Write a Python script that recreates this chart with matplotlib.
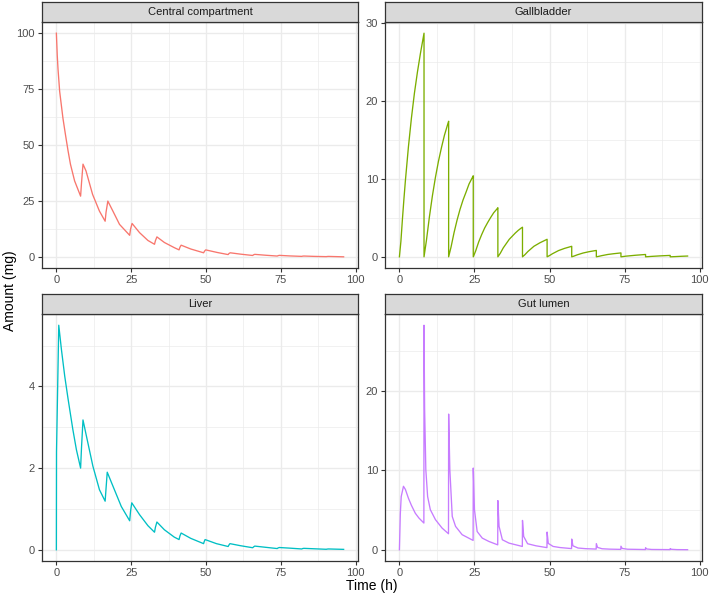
import matplotlib

matplotlib.use("Agg")
import matplotlib.pyplot as plt


FIG_W, FIG_H, DPI = 709, 596, 100

PANEL_TITLES = ["Central compartment", "Gallbladder", "Liver", "Gut lumen"]
PALETTE = ["#F8766D", "#7CAE00", "#00BFC4", "#C77CFF"]

X_BREAKS = [0, 25, 50, 75, 100]
X_MINOR = [12.5, 37.5, 62.5, 87.5]

# amounts (mg)
CENTRAL_TIME = [0, 0.3, 0.55, 1.1, 2.2, 3.0, 3.9, 4.7, 6.1, 8.1,
                8.4, 8.9, 9.9, 12.1, 14.4, 16.3, 16.6, 17.2, 18.9, 21.1,
                24.5, 24.8, 25.3, 27.8, 30.6, 32.8, 33.1, 33.6, 36.1, 39.4,
                41.0, 41.3, 41.7, 44.9, 49.2, 49.5, 49.9, 53.9, 57.4, 57.7,
                58.1, 61.5, 65.6, 65.9, 66.3, 70.0, 73.8, 74.1, 74.5, 78.0,
                82.0, 82.3, 82.7, 86.0, 90.2, 90.5, 90.9, 96.0]
CENTRAL_AMOUNT = [100, 90, 84, 74, 62, 55, 47.5, 41.5, 34, 27.2,
                  33, 41.5, 38.5, 28, 20.5, 16, 20, 25, 20.5, 14.6,
                  9.7, 12.5, 15, 10.9, 7.4, 5.7, 7.3, 9.0, 6.5, 4.2,
                  3.2, 4.4, 5.3, 3.6, 1.9, 2.6, 3.2, 2.0, 1.1, 1.6,
                  1.9, 1.3, 0.7, 1.0, 1.2, 0.8, 0.45, 0.62, 0.75, 0.5,
                  0.3, 0.4, 0.45, 0.3, 0.18, 0.24, 0.28, 0.1]

GALL_TIME = [0, 0.5, 1.0, 1.5, 2.0, 3.0, 4.0, 5.0, 6.0, 7.0, 8.2,
             8.2, 9.0, 10.0, 11.0, 12.0, 13.0, 14.0, 15.0, 16.0, 16.4,
             16.4, 17.2, 18.2, 19.2, 20.2, 21.2, 22.2, 23.2, 24.2, 24.6,
             24.6, 25.4, 26.4, 27.4, 28.4, 29.4, 30.4, 31.4, 32.4, 32.8,
             32.8, 33.6, 34.6, 35.6, 36.6, 37.6, 38.6, 39.6, 40.6, 41.0,
             41.0, 41.8, 42.8, 44.8, 46.8, 49.2,
             49.2, 50.0, 51.0, 53.0, 55.0, 57.4,
             57.4, 58.2, 59.2, 61.2, 63.2, 65.6,
             65.6, 66.4, 67.4, 69.4, 71.4, 73.8,
             73.8, 75.6, 78.6, 82.0,
             82.0, 83.8, 86.8, 90.2,
             90.2, 92.0, 94.0, 96.0]
GALL_AMOUNT = [0, 2.0, 4.8, 7.4, 9.8, 14.1, 17.8, 21.0, 23.7, 26.1, 28.7,
               0, 2.1, 5.15, 7.85, 10.2, 12.25, 14.0, 15.6, 16.9, 17.4,
               0, 1.25, 3.1, 4.7, 6.1, 7.3, 8.3, 9.35, 10.1, 10.4,
               0, 0.75, 1.9, 2.85, 3.7, 4.4, 5.05, 5.65, 6.1, 6.3,
               0, 0.45, 1.15, 1.7, 2.25, 2.65, 3.05, 3.4, 3.7, 3.8,
               0, 0.27, 0.68, 1.35, 1.8, 2.25,
               0, 0.16, 0.4, 0.8, 1.08, 1.35,
               0, 0.1, 0.25, 0.49, 0.66, 0.82,
               0, 0.06, 0.15, 0.3, 0.4, 0.5,
               0, 0.09, 0.2, 0.3,
               0, 0.05, 0.12, 0.18,
               0, 0.03, 0.07, 0.1]

LIVER_TIME = [0, 0.05, 0.8, 1.7, 2.8, 3.9, 5.5, 6.7, 8.1,
              8.4, 8.9, 10.0, 12.2, 14.4, 16.3, 16.6, 17.0, 18.9, 21.7,
              24.5, 24.8, 25.2, 27.8, 30.6, 32.8, 33.1, 33.6, 36.1, 39.4,
              41.0, 41.3, 41.7, 44.9, 49.2, 49.4, 49.7, 53.5, 57.4, 57.7,
              58.0, 61.5, 65.6, 65.9, 66.3, 70.0, 73.8, 74.1, 74.5, 78.0,
              82.0, 82.3, 82.7, 86.0, 90.2, 90.5, 90.9, 96.0]
LIVER_AMOUNT = [0, 2.4, 5.5, 4.9, 4.25, 3.7, 2.95, 2.45, 2.0,
                2.5, 3.18, 2.8, 2.05, 1.47, 1.19, 1.5, 1.9, 1.56, 1.06,
                0.71, 0.95, 1.15, 0.86, 0.59, 0.43, 0.55, 0.68, 0.49, 0.31,
                0.25, 0.34, 0.41, 0.28, 0.15, 0.2, 0.25, 0.15, 0.08, 0.12,
                0.15, 0.1, 0.05, 0.07, 0.09, 0.06, 0.03, 0.045, 0.055, 0.04,
                0.02, 0.03, 0.035, 0.025, 0.012, 0.017, 0.02, 0.01]

GUT_TIME = [0, 0.3, 0.6, 1.35, 2.0, 3.0, 4.0, 5.3, 6.5, 8.15,
            8.2, 8.4, 8.8, 9.4, 10.3, 12.0, 14.2, 16.35,
            16.4, 16.8, 17.6, 18.7, 20.9, 24.55,
            24.6, 25.0, 25.9, 27.6, 29.8, 32.75,
            32.8, 33.2, 34.3, 36.5, 40.95,
            41.0, 41.4, 42.7, 45.5, 49.15,
            49.2, 49.6, 51.2, 53.5, 57.35,
            57.4, 57.8, 59.5, 62.0, 65.55,
            65.6, 66.0, 67.5, 70.0, 73.75,
            73.8, 74.2, 76.0, 81.95,
            82.0, 82.4, 84.0, 90.15,
            90.2, 90.6, 92.5, 96.0]
GUT_AMOUNT = [0, 4.5, 6.7, 8.0, 7.6, 6.5, 5.6, 4.6, 4.0, 3.37,
              28.3, 17.7, 10.1, 6.7, 5.05, 3.8, 2.74, 2.02,
              17.1, 10.1, 4.2, 2.95, 1.9, 1.18,
              10.3, 5.05, 2.3, 1.47, 1.05, 0.62,
              6.2, 2.95, 1.26, 0.84, 0.42,
              3.7, 1.68, 0.76, 0.5, 0.27,
              2.23, 0.8, 0.42, 0.28, 0.15,
              1.35, 0.5, 0.22, 0.14, 0.09,
              0.78, 0.3, 0.13, 0.08, 0.05,
              0.45, 0.17, 0.07, 0.03,
              0.26, 0.1, 0.04, 0.02,
              0.15, 0.06, 0.02, 0.01]

Y_BREAKS = [[0, 25, 50, 75, 100], [0, 10, 20, 30], [0, 2, 4], [0, 10, 20]]
Y_MINOR = [[12.5, 37.5, 62.5, 87.5], [5, 15, 25], [1, 3, 5], [5, 15, 25]]

# panel boxes in pixels: left, top, right, bottom (strip sits above top)
PANEL_BOXES = [(42, 22, 358, 268), (385, 22, 702, 268),
               (42, 314, 358, 561), (385, 314, 702, 561)]
STRIP_H = 20.5


def configure_plots():
    plt.rcParams.update(
        {
            "font.family": ["Liberation Sans", "DejaVu Sans"],
            "font.size": 8,
            "axes.linewidth": 0.9,
            "axes.edgecolor": "#333333",
        }
    )


def draw_panel(fig, box, title, times, amounts, color, yb, ym):
    left, top, right, bottom = box
    rect = [left / FIG_W, 1 - bottom / FIG_H, (right - left) / FIG_W, (bottom - top) / FIG_H]
    ax = fig.add_axes(rect)
    ax.plot(times, amounts, color=color, linewidth=0.95, solid_joinstyle="round")
    ax.margins(x=0.05, y=0.05)

    ax.set_xticks(X_BREAKS)
    ax.set_xticks(X_MINOR, minor=True)
    ax.set_yticks(yb)
    ax.set_yticks(ym, minor=True)
    ax.grid(which="major", color="#EBEBEB", linewidth=0.95)
    ax.grid(which="minor", color="#EBEBEB", linewidth=0.5)
    ax.set_axisbelow(True)
    ax.tick_params(which="major", length=3.2, width=0.8, color="#333333",
                   labelcolor="#4D4D4D", labelsize=8, pad=1.8)
    ax.tick_params(which="minor", length=0)

    # the lines already set the autoscale; lock it so ticks can't stretch it
    ax.set_xlim(ax.get_xlim())
    ax.set_ylim(ax.get_ylim())

    srect = [left / FIG_W, 1 - top / FIG_H, (right - left) / FIG_W, STRIP_H / FIG_H]
    sax = fig.add_axes(srect)
    sax.set_facecolor("#D9D9D9")
    sax.set_xticks([])
    sax.set_yticks([])
    sax.text(0.5, 0.5, title, ha="center", va="center", fontsize=8,
             color="#1A1A1A", transform=sax.transAxes)
    return ax


def main():
    configure_plots()
    fig = plt.figure(figsize=(FIG_W / DPI, FIG_H / DPI), dpi=DPI)

    series = [
        (CENTRAL_TIME, CENTRAL_AMOUNT),
        (GALL_TIME, GALL_AMOUNT),
        (LIVER_TIME, LIVER_AMOUNT),
        (GUT_TIME, GUT_AMOUNT),
    ]
    for i, (times, amounts) in enumerate(series):
        draw_panel(fig, PANEL_BOXES[i], PANEL_TITLES[i], times, amounts,
                   PALETTE[i], Y_BREAKS[i], Y_MINOR[i])

    fig.text(372 / FIG_W, 1 - 586 / FIG_H, "Time (h)", ha="center", va="center", fontsize=10)
    fig.text(10 / FIG_W, 1 - 291 / FIG_H, "Amount (mg)", ha="center", va="center",
             rotation=90, fontsize=10)

    fig.savefig("out.png", dpi=DPI)
    plt.close("all")


if __name__ == "__main__":
    main()
